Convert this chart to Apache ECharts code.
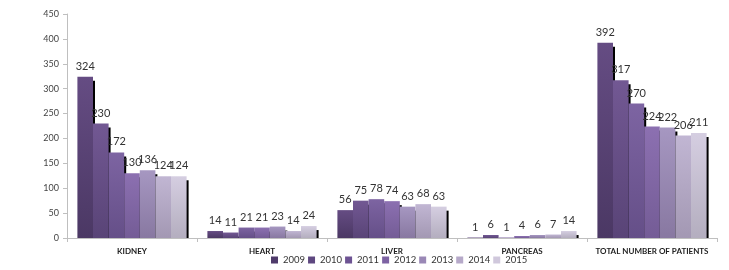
<!DOCTYPE html>
<html>
<head>
<meta charset="utf-8">
<script src="https://cdn.jsdelivr.net/npm/echarts@6/dist/echarts.min.js"></script>
<style>
  html, body { margin: 0; padding: 0; background: #fff; }
  #chart { width: 729px; height: 270px; }
</style>
</head>
<body>
<div id="chart"></div>
<script>
// categories and yearly values
const categories = ['KIDNEY', 'HEART', 'LIVER', 'PANCREAS', 'TOTAL NUMBER OF PATIENTS'];
const years = ['2009', '2010', '2011', '2012', '2013', '2014', '2015'];
const v2009 = [324, 14, 56, 1, 392];
const v2010 = [230, 11, 75, 6, 317];
const v2011 = [172, 21, 78, 1, 270];
const v2012 = [130, 21, 74, 4, 224];
const v2013 = [136, 23, 63, 6, 222];
const v2014 = [124, 14, 68, 7, 206];
const v2015 = [124, 24, 63, 14, 211];
const yearValues = [v2009, v2010, v2011, v2012, v2013, v2014, v2015];

// top / bottom colour of each year's bar
const colorTop = ['#654c83', '#725893', '#7d64a2', '#8c70b1', '#a697c1', '#c1b6d3', '#d5cee1'];
const colorBottom = ['#4b3864', '#594477', '#654f88', '#745c96', '#8878a1', '#a398b3', '#b4aebf'];
const legendColor = ['#4f3b6b', '#5e4880', '#6d5393', '#7d62a3', '#9a88b6', '#b6a9c9', '#d0c8dc'];

const FONT = 'Lato, "Liberation Sans", sans-serif';

const chart = echarts.init(document.getElementById('chart'));

const series = years.map((y, i) => ({
  name: y,
  type: 'bar',
  z: 2,
  data: yearValues[i],
  barGap: '0%',
  barCategoryGap: '16%',
  itemStyle: {
    color: new echarts.graphic.LinearGradient(0, 0, 0, 1, [
      { offset: 0, color: colorTop[i] },
      { offset: 1, color: colorBottom[i] }
    ]),
    shadowColor: '#000',
    shadowOffsetX: 2,
    shadowOffsetY: 4,
    shadowBlur: 0
  },
  label: {
    show: true,
    position: 'top',
    distance: 5,
    color: '#333',
    fontSize: 11,
    fontFamily: FONT
  }
}));

chart.setOption({
  animation: false,
  color: legendColor,
  grid: {
    left: 67,
    right: 12,
    top: 14,
    bottom: 32
  },
  // hides the part of the bar shadow that falls below the axis
  graphic: [{
    type: 'rect',
    z: 3,
    shape: { x: 68, y: 239, width: 655, height: 6 },
    style: { fill: '#fff' }
  }],
  legend: {
    bottom: 0,
    left: 266,
    itemWidth: 7,
    itemHeight: 7,
    itemGap: 3,
    icon: 'rect',
    textStyle: { color: '#333', fontSize: 9.5, fontFamily: FONT },
    data: years.map((y, i) => ({ name: y, itemStyle: { color: legendColor[i], shadowBlur: 0, shadowOffsetX: 0, shadowOffsetY: 0 } }))
  },
  xAxis: {
    type: 'category',
    z: 4,
    data: categories,
    axisLine: { lineStyle: { color: '#bfbfbf', width: 1 } },
    axisTick: { show: true, length: 4, lineStyle: { color: '#bfbfbf' } },
    axisLabel: {
      color: '#222',
      fontSize: 8,
      fontWeight: 'bold',
      fontFamily: FONT,
      margin: 9,
      interval: 0
    }
  },
  yAxis: {
    type: 'value',
    z: 4,
    min: 0,
    max: 450,
    interval: 50,
    axisLine: { show: true, lineStyle: { color: '#bfbfbf', width: 1 } },
    axisTick: { show: true, length: 4, lineStyle: { color: '#bfbfbf' } },
    splitLine: { show: false },
    axisLabel: {
      color: '#444',
      fontSize: 9,
      fontFamily: FONT,
      margin: 8
    }
  },
  series: series
});
</script>
</body>
</html>
